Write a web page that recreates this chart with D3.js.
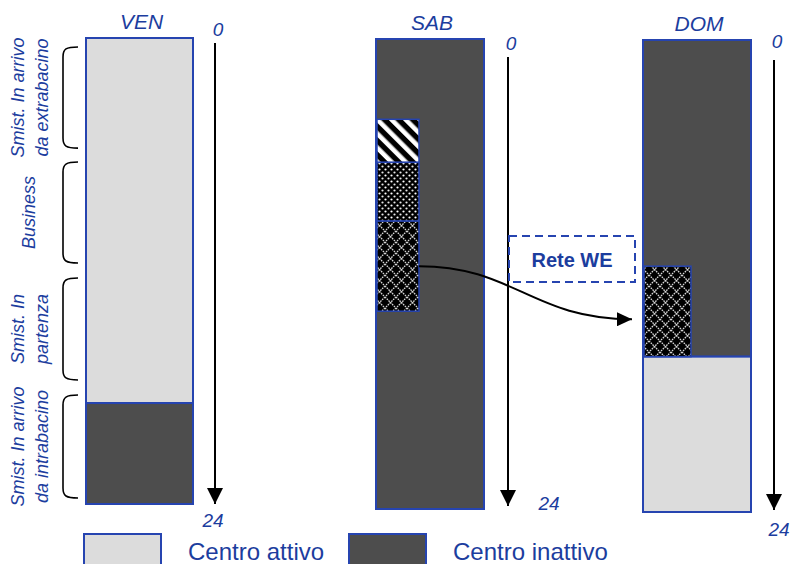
<!DOCTYPE html>
<html>
<head>
<meta charset="utf-8">
<script src="https://cdn.jsdelivr.net/npm/d3@7"></script>
<style>
  html, body { margin: 0; padding: 0; background: #fff; }
  svg { display: block; font-family: "Liberation Sans", Arial, sans-serif; }
</style>
</head>
<body>
<svg id="chart" width="790" height="564"></svg>
<script>
// dati (ore 0-24)
var giorni = ["VEN", "SAB", "DOM"];
var oreEstremi = [0, 24];

var venStati = [{ da: 0, a: 18.8, stato: "attivo" }, { da: 18.8, a: 24, stato: "inattivo" }];
var sabStati = [{ da: 0, a: 24, stato: "inattivo" }];
var domStati = [{ da: 0, a: 16.1, stato: "inattivo" }, { da: 16.1, a: 24, stato: "attivo" }];

var sabFlussi = [
  { da: 4.1, a: 6.3, tipo: "righe" },
  { da: 6.3, a: 9.3, tipo: "punti" },
  { da: 9.3, a: 13.9, tipo: "rete" }
];
var domFlussi = [{ da: 11.5, a: 16.1, tipo: "rete" }];

var fasiVen = [
  { da: 0.46, a: 5.67, righe: ["Smist. In arrivo", "da extrabacino"] },
  { da: 6.39, a: 11.59, righe: ["Business"] },
  { da: 12.36, a: 17.61, righe: ["Smist. In", "partenza"] },
  { da: 18.39, a: 23.69, righe: ["Smist. In arrivo", "da intrabacino"] }
];

var legendaStati = ["attivo", "inattivo"];
var legendaTesti = ["Centro attivo", "Centro inattivo"];

var collegamento = { da: "SAB", oraDa: 11.6, a: "DOM", oraA: 14.2, testo: "Rete WE" };

// colori / stile
var BLU = "#1c3d9e";
var BORDO = "#2644b0";
var colori = { attivo: "#dcdcdc", inattivo: "#4d4d4d" };

// layout delle colonne
var colonne = {
  VEN: { x: 86, w: 107, top: 38, bottom: 504, ax: 215, axTop: 43, axBot: 504, zeroY: 36, l24: [213, 527], fw: 42, stati: venStati, flussi: [] },
  SAB: { x: 376, w: 108, top: 39, bottom: 509, ax: 508, axTop: 57, axBot: 506, zeroY: 50, l24: [549, 510], fw: 42, stati: sabStati, flussi: sabFlussi },
  DOM: { x: 643, w: 108, top: 40, bottom: 512, ax: 774, axTop: 60, axBot: 510, zeroY: 48, l24: [779, 536], fw: 47, stati: domStati, flussi: domFlussi }
};

var svg = d3.select("#chart");
var defs = svg.append("defs");

// pattern
var pR = defs.append("pattern").attr("id", "righe").attr("patternUnits", "userSpaceOnUse")
  .attr("width", 10).attr("height", 10).attr("patternTransform", "rotate(-45)");
pR.append("rect").attr("width", 10).attr("height", 10).attr("fill", "#000");
pR.append("rect").attr("x", 0).attr("width", 4.6).attr("height", 10).attr("fill", "#fff");

var pP = defs.append("pattern").attr("id", "punti").attr("patternUnits", "userSpaceOnUse")
  .attr("width", 6).attr("height", 6);
pP.append("rect").attr("width", 6).attr("height", 6).attr("fill", "#000");
pP.append("circle").attr("cx", 1.5).attr("cy", 1.5).attr("r", 1.1).attr("fill", "#fff");
pP.append("circle").attr("cx", 4.5).attr("cy", 4.5).attr("r", 1.1).attr("fill", "#e8e8e8");

var pN = defs.append("pattern").attr("id", "rete").attr("patternUnits", "userSpaceOnUse")
  .attr("width", 11).attr("height", 11);
pN.append("rect").attr("width", 11).attr("height", 11).attr("fill", "#000");
pN.append("path").attr("d", "M0,0L11,11M11,0L0,11").attr("stroke", "#d4d4d4")
  .attr("stroke-width", 1.3).attr("stroke-dasharray", "1.6,0.9");

// marker frecce
defs.append("marker").attr("id", "freccia").attr("markerUnits", "userSpaceOnUse")
  .attr("viewBox", "0 -8 16 16").attr("refX", 16).attr("refY", 0)
  .attr("markerWidth", 16).attr("markerHeight", 16).attr("orient", "auto")
  .append("path").attr("d", "M0,-8L16,0L0,8Z").attr("fill", "#000");
defs.append("marker").attr("id", "freccia2").attr("markerUnits", "userSpaceOnUse")
  .attr("viewBox", "0 -7 15 14").attr("refX", 15).attr("refY", 0)
  .attr("markerWidth", 15).attr("markerHeight", 14).attr("orient", "auto")
  .append("path").attr("d", "M0,-7L15,0L0,7Z").attr("fill", "#000");

giorni.forEach(function(g) {
  var c = colonne[g];
  var y = d3.scaleLinear().domain([0, 24]).range([c.top, c.bottom]);
  c.y = y;
  var gr = svg.append("g").attr("class", "col-" + g);

  gr.selectAll("rect.stato").data(c.stati).enter().append("rect")
    .attr("class", "stato")
    .attr("x", c.x).attr("width", c.w)
    .attr("y", function(d) { return y(d.da); })
    .attr("height", function(d) { return y(d.a) - y(d.da); })
    .attr("fill", function(d) { return colori[d.stato]; })
    .attr("stroke", BORDO).attr("stroke-width", 2);

  gr.selectAll("rect.flusso").data(c.flussi).enter().append("rect")
    .attr("class", "flusso")
    .attr("x", c.x + 1).attr("width", c.fw)
    .attr("y", function(d) { return y(d.da); })
    .attr("height", function(d) { return y(d.a) - y(d.da); })
    .attr("fill", function(d) { return "url(#" + d.tipo + ")"; })
    .attr("stroke", BORDO).attr("stroke-width", 1.5);

  // titolo
  gr.append("text").attr("x", c.x + c.w / 2 + 2).attr("y", c.top - 9)
    .attr("text-anchor", "middle").attr("font-size", 21).attr("font-style", "italic")
    .attr("fill", BLU).text(g);

  // asse del tempo
  gr.append("line").attr("x1", c.ax).attr("x2", c.ax).attr("y1", c.axTop).attr("y2", c.axBot)
    .attr("stroke", "#000").attr("stroke-width", 2).attr("marker-end", "url(#freccia)");

  gr.append("text").attr("x", c.ax + 3).attr("y", c.zeroY)
    .attr("text-anchor", "middle").attr("font-size", 19).attr("font-style", "italic")
    .attr("fill", BLU).text(oreEstremi[0]);
  gr.append("text").attr("x", c.l24[0]).attr("y", c.l24[1])
    .attr("text-anchor", "middle").attr("font-size", 19).attr("font-style", "italic")
    .attr("fill", BLU).text(oreEstremi[1]);
});

// parentesi e fasi del venerdì
var yV = colonne.VEN.y;
var fasi = svg.append("g").attr("class", "fasi");
fasi.selectAll("path").data(fasiVen).enter().append("path")
  .attr("d", function(d) {
    var y0 = yV(d.da), y1 = yV(d.a);
    return "M78," + y0 + " C66," + y0 + " 63," + (y0 + 2) + " 63," + (y0 + 10) +
      " L63," + (y1 - 10) + " C63," + (y1 - 2) + " 66," + y1 + " 78," + y1;
  })
  .attr("fill", "none").attr("stroke", "#000").attr("stroke-width", 1.6);

fasi.selectAll("text").data(fasiVen).enter().append("text")
  .attr("transform", function(d) {
    var ym = (yV(d.da) + yV(d.a)) / 2;
    var x = d.righe.length === 1 ? 35 : 24;
    return "translate(" + x + "," + ym + ") rotate(-90)";
  })
  .attr("text-anchor", "middle").attr("font-size", 18).attr("font-style", "italic")
  .attr("fill", BLU)
  .each(function(d) {
    var t = d3.select(this);
    d.righe.forEach(function(r, i) {
      t.append("tspan").attr("x", 0).attr("y", i * 24).text(r);
    });
  });

// collegamento SAB -> DOM
var cA = colonne[collegamento.da], cB = colonne[collegamento.a];
var xs = cA.x + 43, ys = cA.y(collegamento.oraDa);
var xe = cB.x - 11, ye = cB.y(collegamento.oraA);
svg.append("rect").attr("x", 509).attr("y", 236).attr("width", 126).attr("height", 46)
  .attr("fill", "none").attr("stroke", BORDO).attr("stroke-width", 2)
  .attr("stroke-dasharray", "8,5");
svg.append("text").attr("x", 572).attr("y", 267).attr("text-anchor", "middle")
  .attr("font-size", 20).attr("font-weight", "bold").attr("fill", BLU).text(collegamento.testo);
svg.append("path")
  .attr("d", "M" + xs + "," + ys + " C" + (xs + 95) + "," + ys + " " + (xe - 100) + "," + ye + " " + xe + "," + ye)
  .attr("fill", "none").attr("stroke", "#000").attr("stroke-width", 2)
  .attr("marker-end", "url(#freccia2)");

// legenda
var leg = svg.append("g").attr("class", "legenda");
var legX = d3.scalePoint().domain(legendaStati).range([84, 349]);
leg.selectAll("rect").data(legendaStati).enter().append("rect")
  .attr("x", function(d) { return legX(d); }).attr("y", 534)
  .attr("width", 77).attr("height", 40)
  .attr("fill", function(d) { return colori[d]; })
  .attr("stroke", BORDO).attr("stroke-width", 2);
leg.selectAll("text").data(legendaStati).enter().append("text")
  .attr("x", function(d) { return legX(d) + 104; }).attr("y", 560)
  .attr("font-size", 24).attr("fill", BLU)
  .text(function(d, i) { return legendaTesti[i]; });
</script>
</body>
</html>
